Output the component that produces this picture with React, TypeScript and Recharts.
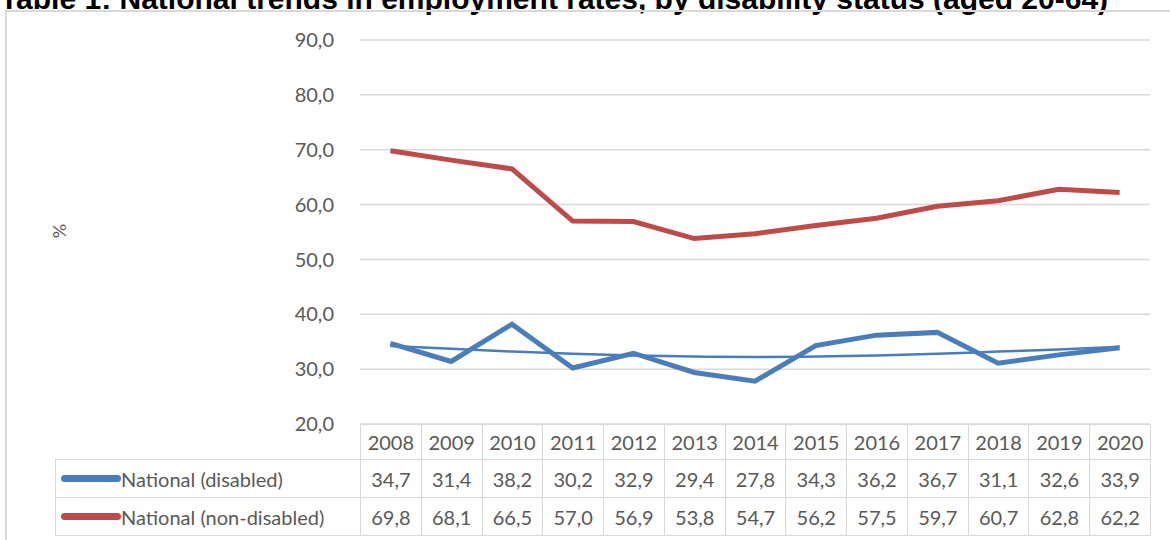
import { LineChart, Line, XAxis, YAxis, CartesianGrid } from "recharts";

const YEARS = ["2008", "2009", "2010", "2011", "2012", "2013", "2014", "2015", "2016", "2017", "2018", "2019", "2020"];
const DISABLED = [34.7, 31.4, 38.2, 30.2, 32.9, 29.4, 27.8, 34.3, 36.2, 36.7, 31.1, 32.6, 33.9];
const NON_DISABLED = [69.8, 68.1, 66.5, 57.0, 56.9, 53.8, 54.7, 56.2, 57.5, 59.7, 60.7, 62.8, 62.2];
// polynomial trendline for the disabled series
const DISABLED_TREND = [34.2, 33.7, 33.2, 32.8, 32.5, 32.3, 32.2, 32.3, 32.5, 32.8, 33.2, 33.6, 34.1];
const Y_TICKS = [20, 30, 40, 50, 60, 70, 80, 90];

const BLUE = "#4a7ebb";
const RED = "#be4b48";
const GRID = "#d9d9d9";
const TEXT = "#595959";
const FONT = "Lato, 'Open Sans', sans-serif";

const PLOT_LEFT = 360;
const PLOT_RIGHT = 1150;
const PLOT_TOP = 40;
const PLOT_BOTTOM = 424;
const COL_W = (PLOT_RIGHT - PLOT_LEFT) / YEARS.length;

const data = YEARS.map((y, i) => ({
  year: y,
  disabled: DISABLED[i],
  nonDisabled: NON_DISABLED[i],
  trend: DISABLED_TREND[i],
}));

const fmt = (v: number) => v.toFixed(1).replace(".", ",");

const cell = (left: number, top: number, w: number, h: number): React.CSSProperties => ({
  position: "absolute",
  left,
  top,
  width: w,
  height: h,
  boxSizing: "border-box",
  border: `1px solid ${GRID}`,
  display: "flex",
  alignItems: "center",
  justifyContent: "center",
  fontSize: 20,
  color: TEXT,
  fontFamily: FONT,
});

const ROWS = [
  { label: "National (disabled)", values: DISABLED, color: BLUE, top: 459 },
  { label: "National (non-disabled)", values: NON_DISABLED, color: RED, top: 497 },
];

export default function App() {
  return (
    <div style={{ position: "fixed", left: 0, top: 0, width: 1170, height: 540, background: "#fff", overflow: "hidden" }}>
      <div
        style={{
          position: "absolute",
          left: 0,
          top: -18,
          whiteSpace: "nowrap",
          fontFamily: "'Liberation Sans', Arial, sans-serif",
          fontWeight: "bold",
          fontSize: 30,
          color: "#000",
        }}
      >
        Table 1: National trends in employment rates, by disability status (aged 20-64)
      </div>
      <div style={{ position: "absolute", left: 5, top: 10, width: 1200, height: 600, borderLeft: `2px solid ${GRID}`, borderTop: `2px solid ${GRID}` }} />
      <div style={{ position: "absolute", left: 52, top: 220, transform: "rotate(-90deg)", fontSize: 18, color: TEXT, fontFamily: FONT }}>%</div>
      <div style={{ position: "absolute", left: 0, top: 0 }}>
        <LineChart
          width={1170}
          height={540}
          data={data}
          margin={{ top: PLOT_TOP, right: 1170 - PLOT_RIGHT, bottom: 540 - PLOT_BOTTOM, left: 0 }}
        >
          <CartesianGrid vertical={false} stroke={GRID} strokeWidth={1.5} />
          <XAxis dataKey="year" hide padding={{ left: COL_W / 2, right: COL_W / 2 }} />
          <YAxis
            domain={[20, 90]}
            ticks={Y_TICKS}
            width={PLOT_LEFT}
            axisLine={false}
            tickLine={false}
            tickMargin={20}
            tickFormatter={fmt}
            tick={{ fill: TEXT, fontSize: 20, fontFamily: FONT }}
          />
          <Line dataKey="nonDisabled" stroke={RED} strokeWidth={5} dot={false} isAnimationActive={false} />
          <Line dataKey="trend" type="monotone" stroke={BLUE} strokeWidth={2.5} dot={false} isAnimationActive={false} />
          <Line dataKey="disabled" stroke={BLUE} strokeWidth={5} dot={false} isAnimationActive={false} />
        </LineChart>
      </div>
      {YEARS.map((y, i) => (
        <div key={y} style={cell(PLOT_LEFT + i * COL_W, PLOT_BOTTOM, COL_W + 1, 36)}>{y}</div>
      ))}
      {ROWS.map((r) => (
        <div key={r.label}>
          <div style={{ ...cell(55, r.top, PLOT_LEFT - 55 + 1, 39), justifyContent: "flex-start" }}>
            <span style={{ display: "inline-block", width: 60, height: 7, borderRadius: 4, background: r.color, marginLeft: 5 }} />
            <span>{r.label}</span>
          </div>
          {r.values.map((v, i) => (
            <div key={i} style={cell(PLOT_LEFT + i * COL_W, r.top, COL_W + 1, 39)}>{fmt(v)}</div>
          ))}
        </div>
      ))}
    </div>
  );
}
